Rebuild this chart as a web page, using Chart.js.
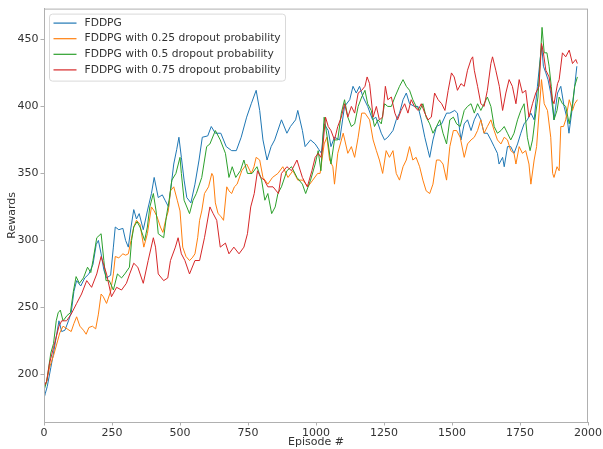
<!DOCTYPE html>
<html>
<head>
<meta charset="utf-8">
<title>FDDPG rewards</title>
<script src="https://cdn.jsdelivr.net/npm/chart.js@4.4.0/dist/chart.umd.min.js"></script>
<style>
    html, body { margin: 0; padding: 0; background: #ffffff; }
    #wrap { width: 603px; height: 449px; }
</style>
</head>
<body>
<div id="wrap"><canvas id="rewards-chart" width="603" height="449"></canvas></div>
<script>
// Series labels and colours (matplotlib tab10)
const seriesLabels = [
    'FDDPG',
    'FDDPG with 0.25 dropout probability',
    'FDDPG with 0.5 dropout probability',
    'FDDPG with 0.75 dropout probability'
];
const seriesColors = ['#1f77b4', '#ff7f0e', '#2ca02c', '#d62728'];

const xTickValues = [0, 250, 500, 750, 1000, 1250, 1500, 1750, 2000];
const yTickValues = [200, 250, 300, 350, 400, 450];

// [episode, reward] readings, one list per run
const fddpgPoints = [
    [0,182],[5,186],[12,191],[25,205],[35,216],[45,228],[55,240],[65,232],[77,233],[90,240],
    [100,246],[110,262],[120,270],[135,266],[150,272],[165,275],[180,282],[192,297],[200,300],[210,290],
    [220,278],[230,272],[245,274],[255,295],[262,310],[275,308],[290,309],[300,300],[310,295],[320,310],
    [330,323],[340,316],[350,320],[365,308],[380,322],[395,335],[405,347],[420,332],[435,334],[445,330],
    [458,325],[470,345],[477,357],[488,368],[496,377],[505,362],[515,345],[525,332],[540,328],[555,342],
    [570,360],[582,377],[602,378],[615,385],[630,380],[650,380],[670,370],[690,367],[707,367],[725,377],
    [745,392],[762,402],[780,412],[793,397],[805,375],[820,360],[835,370],[848,375],[873,390],[893,380],
    [906,385],[925,390],[933,397],[950,382],[960,370],[980,375],[997,372],[1010,368],[1020,365],[1030,387],
    [1045,382],[1055,370],[1068,377],[1087,375],[1105,400],[1124,405],[1136,415],[1148,410],[1160,415],[1173,407],
    [1190,400],[1208,390],[1220,392],[1240,380],[1252,375],[1264,377],[1283,382],[1295,390],[1307,395],[1320,405],
    [1332,410],[1344,402],[1362,400],[1375,400],[1387,390],[1400,377],[1412,367],[1418,362],[1430,375],[1443,385],
    [1462,387],[1480,395],[1492,395],[1510,397],[1520,395],[1533,375],[1545,387],[1557,390],[1570,382],[1582,390],
    [1594,395],[1606,390],[1618,380],[1630,380],[1643,375],[1655,370],[1667,365],[1673,357],[1686,362],[1692,355],
    [1704,370],[1716,370],[1728,365],[1741,372],[1753,380],[1765,387],[1777,390],[1790,395],[1802,390],[1814,415],
    [1824,435],[1830,445],[1836,430],[1845,425],[1853,420],[1863,410],[1875,390],[1888,410],[1900,415],[1912,400],
    [1924,390],[1930,380],[1943,400],[1951,415],[1959,430]
];

const dropout25Points = [
    [0,190],[10,195],[20,205],[35,214],[50,225],[58,231],[70,236],[85,234],[100,232],[110,238],
    [120,243],[132,236],[145,233],[155,230],[165,235],[178,236],[190,234],[200,245],[210,260],[218,258],
    [230,253],[245,262],[255,275],[262,288],[275,287],[290,290],[300,289],[310,290],[320,300],[330,310],
    [340,315],[353,312],[367,295],[380,305],[395,325],[405,322],[415,318],[428,310],[437,306],[447,315],
    [457,322],[465,337],[477,340],[490,330],[500,322],[510,295],[522,288],[535,285],[545,287],[555,290],
    [565,302],[572,315],[580,322],[590,335],[605,340],[617,350],[622,348],[630,328],[640,320],[650,318],
    [660,315],[672,340],[680,337],[690,335],[700,340],[710,342],[727,352],[745,357],[762,350],[772,355],
    [780,362],[793,360],[805,347],[823,342],[840,347],[860,350],[878,355],[897,347],[915,352],[933,345],
    [952,345],[970,340],[988,345],[1006,350],[1015,350],[1030,372],[1040,377],[1050,360],[1062,355],[1068,342],
    [1080,365],[1100,380],[1117,365],[1130,370],[1142,362],[1155,377],[1168,395],[1180,395],[1197,390],[1210,375],
    [1222,367],[1233,360],[1245,350],[1258,367],[1270,362],[1283,367],[1295,350],[1307,345],[1320,355],[1332,360],
    [1344,370],[1356,360],[1368,362],[1381,355],[1393,345],[1405,337],[1418,335],[1430,342],[1443,360],[1455,360],
    [1467,357],[1480,345],[1492,370],[1505,382],[1517,382],[1530,377],[1545,362],[1557,372],[1570,375],[1582,377],
    [1594,382],[1606,390],[1618,380],[1630,385],[1643,390],[1655,382],[1667,375],[1680,372],[1692,377],[1704,375],
    [1716,367],[1728,365],[1735,357],[1747,370],[1759,365],[1771,367],[1783,357],[1790,342],[1802,360],[1811,370],
    [1820,395],[1829,420],[1839,402],[1851,397],[1863,377],[1870,350],[1875,347],[1886,355],[1894,352],[1900,385],
    [1910,385],[1918,390],[1931,405],[1943,397],[1951,402],[1961,405]
];

const dropout50Points = [
    [0,188],[10,195],[25,216],[35,223],[45,240],[52,246],[60,248],[70,240],[85,244],[97,246],
    [108,262],[118,273],[130,268],[145,272],[160,280],[172,276],[180,285],[194,302],[210,305],[220,285],
    [228,270],[240,270],[255,263],[270,275],[285,272],[297,275],[314,280],[322,300],[330,310],[342,314],
    [353,310],[370,300],[380,310],[389,325],[402,335],[412,322],[420,305],[440,302],[450,318],[460,330],
    [470,345],[485,350],[500,362],[505,350],[515,330],[535,320],[548,330],[560,335],[580,347],[598,370],
    [610,372],[630,382],[648,375],[667,365],[680,347],[692,355],[705,347],[722,352],[735,360],[748,350],
    [765,350],[783,355],[800,345],[812,330],[823,335],[837,320],[850,325],[860,335],[873,340],[893,352],
    [910,355],[930,347],[950,342],[962,335],[980,345],[997,357],[1008,367],[1018,352],[1030,392],[1045,372],
    [1055,357],[1068,375],[1080,375],[1093,395],[1105,405],[1117,392],[1130,385],[1142,387],[1155,400],[1168,407],
    [1180,412],[1190,402],[1203,397],[1215,385],[1228,390],[1240,387],[1252,402],[1264,400],[1277,400],[1290,407],
    [1307,415],[1320,420],[1332,415],[1344,412],[1356,405],[1368,400],[1381,397],[1393,402],[1405,392],[1418,387],
    [1430,380],[1443,385],[1455,390],[1467,380],[1480,372],[1492,390],[1505,392],[1517,387],[1530,385],[1545,397],
    [1557,400],[1570,402],[1582,395],[1594,402],[1606,397],[1618,402],[1630,407],[1643,400],[1655,385],[1667,380],
    [1680,382],[1692,385],[1704,380],[1716,375],[1728,380],[1741,390],[1753,397],[1765,402],[1777,377],[1787,367],
    [1796,375],[1808,395],[1816,407],[1826,440],[1831,459],[1839,440],[1849,440],[1857,430],[1865,415],[1875,390],
    [1886,397],[1894,407],[1906,402],[1918,400],[1931,387],[1943,402],[1951,415],[1961,422]
];

const dropout75Points = [
    [0,191],[10,195],[20,208],[35,220],[45,228],[55,236],[65,240],[83,240],[100,245],[120,253],
    [138,260],[157,270],[175,265],[194,275],[210,288],[230,275],[248,258],[267,265],[285,263],[303,268],
    [315,275],[330,283],[345,280],[365,268],[383,285],[402,302],[410,295],[420,275],[440,270],[455,272],
    [465,285],[483,295],[493,302],[505,290],[518,285],[535,275],[555,285],[572,285],[590,302],[610,325],
    [622,320],[635,315],[648,295],[667,298],[680,290],[698,295],[717,290],[735,295],[748,305],[760,325],
    [773,335],[785,352],[797,347],[810,345],[823,340],[842,340],[862,335],[873,350],[893,355],[910,352],
    [930,360],[950,347],[968,340],[985,352],[997,362],[1008,365],[1018,362],[1025,370],[1035,392],[1045,385],
    [1055,382],[1068,375],[1080,385],[1093,392],[1105,402],[1117,392],[1130,400],[1142,395],[1155,410],[1168,412],
    [1180,415],[1188,422],[1197,417],[1210,392],[1222,400],[1233,390],[1245,392],[1255,415],[1264,405],[1277,407],
    [1290,395],[1300,390],[1313,397],[1326,402],[1338,395],[1350,405],[1362,400],[1375,397],[1387,402],[1400,395],
    [1412,390],[1424,392],[1436,410],[1449,405],[1462,402],[1474,397],[1486,412],[1498,425],[1508,422],[1520,412],
    [1533,417],[1545,415],[1557,427],[1570,435],[1576,437],[1582,427],[1594,415],[1606,402],[1618,400],[1630,412],
    [1643,432],[1649,437],[1661,427],[1674,415],[1686,397],[1698,410],[1710,420],[1722,415],[1735,402],[1747,420],
    [1759,410],[1771,412],[1783,392],[1796,402],[1808,410],[1820,415],[1829,447],[1836,440],[1845,427],[1857,422],
    [1869,405],[1875,402],[1888,417],[1894,420],[1906,440],[1918,437],[1931,442],[1943,432],[1955,435],[1961,432]
];

const allSeries = [fddpgPoints, dropout25Points, dropout50Points, dropout75Points];

const FONT = '"DejaVu Sans", "Liberation Sans", sans-serif';
const SPINE = '#b0b0b0';
const TEXT = '#333333';

/**
 * Draw the box around the plot and the matplotlib style legend inside it
 */
const frameAndLegend = {
    id: 'frameAndLegend',
    afterDatasetsDraw(chart) {
        const ctx = chart.ctx;
        const area = chart.chartArea;
        ctx.save();

        // spines
        ctx.strokeStyle = SPINE;
        ctx.lineWidth = 1;
        ctx.strokeRect(area.left + 0.5, area.top + 0.5, area.right - area.left - 1, area.bottom - area.top);

        // legend box
        const bx = area.left + 5.5, by = area.top + 5.5, bw = 236, bh = 67, r = 3;
        ctx.beginPath();
        ctx.moveTo(bx + r, by);
        ctx.arcTo(bx + bw, by, bx + bw, by + bh, r);
        ctx.arcTo(bx + bw, by + bh, bx, by + bh, r);
        ctx.arcTo(bx, by + bh, bx, by, r);
        ctx.arcTo(bx, by, bx + bw, by, r);
        ctx.closePath();
        ctx.fillStyle = 'rgba(255,255,255,0.8)';
        ctx.fill();
        ctx.strokeStyle = '#d9d9d9';
        ctx.stroke();

        ctx.font = '10.7px ' + FONT;
        ctx.textBaseline = 'middle';
        ctx.textAlign = 'left';
        seriesLabels.forEach((label, i) => {
            const cy = by + 9 + i * 15.6;
            ctx.strokeStyle = seriesColors[i];
            ctx.lineWidth = 1.2;
            ctx.beginPath();
            ctx.moveTo(bx + 4, cy);
            ctx.lineTo(bx + 27, cy);
            ctx.stroke();
            ctx.fillStyle = TEXT;
            ctx.fillText(label, bx + 35, cy);
        });
        ctx.restore();
    }
};

document.addEventListener('DOMContentLoaded', function() {
    const ctx = document.getElementById('rewards-chart');

    const datasets = allSeries.map((points, i) => ({
        label: seriesLabels[i],
        data: points.map(p => ({ x: p[0], y: p[1] })),
        borderColor: seriesColors[i],
        borderWidth: 1,
        pointRadius: 0,
        tension: 0,
        fill: false,
        order: allSeries.length - 1 - i // later runs drawn on top
    }));

    new Chart(ctx, {
        type: 'line',
        data: { datasets: datasets },
        options: {
            responsive: false,
            animation: false,
            events: [],
            layout: { padding: { left: 0, right: 14, top: 8, bottom: 0 } },
            plugins: {
                legend: { display: false },
                tooltip: { enabled: false }
            },
            scales: {
                x: {
                    type: 'linear',
                    min: 0,
                    max: 2000,
                    afterBuildTicks: scale => { scale.ticks = xTickValues.map(v => ({ value: v })); },
                    afterFit: scale => { scale.height = 27; },
                    grid: { drawOnChartArea: false, drawTicks: true, tickLength: 3.5, color: SPINE },
                    border: { display: true, color: SPINE },
                    ticks: {
                        color: TEXT,
                        font: { family: FONT, size: 11 },
                        padding: 1,
                        maxRotation: 0,
                        callback: value => String(value)
                    },
                    title: {
                        display: true,
                        text: 'Episode #',
                        color: TEXT,
                        font: { family: FONT, size: 11 },
                        padding: { top: 0, bottom: 0 }
                    }
                },
                y: {
                    type: 'linear',
                    min: 164.5,
                    max: 473,
                    afterBuildTicks: scale => { scale.ticks = yTickValues.map(v => ({ value: v })); },
                    afterFit: scale => { scale.width = 44; },
                    grid: { drawOnChartArea: false, drawTicks: true, tickLength: 3.5, color: SPINE },
                    border: { display: true, color: SPINE },
                    ticks: {
                        color: TEXT,
                        font: { family: FONT, size: 11 },
                        padding: 2,
                        callback: value => String(value)
                    },
                    title: {
                        display: true,
                        text: 'Rewards',
                        color: TEXT,
                        font: { family: FONT, size: 11 },
                        padding: { top: 6, bottom: 0 }
                    }
                }
            }
        },
        plugins: [frameAndLegend]
    });
});
</script>
</body>
</html>
